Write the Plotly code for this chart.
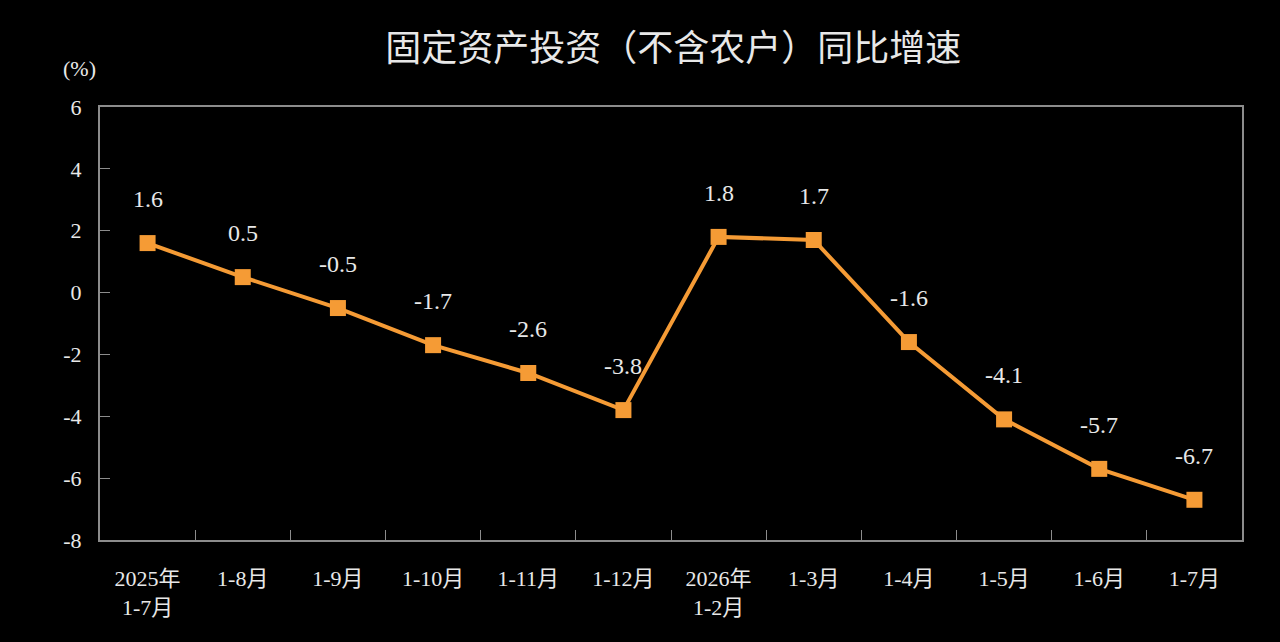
import plotly.graph_objects as go

# categories and values
periods = ['2025年<br>1-7月', '1-8月', '1-9月', '1-10月', '1-11月', '1-12月',
           '2026年<br>1-2月', '1-3月', '1-4月', '1-5月', '1-6月', '1-7月']
growth = [1.6, 0.5, -0.5, -1.7, -2.6, -3.8, 1.8, 1.7, -1.6, -4.1, -5.7, -6.7]
y_ticks = [-8, -6, -4, -2, 0, 2, 4, 6]

orange = '#F59B35'
text_col = '#E8E8E8'
axis_col = '#8C8C8C'
serif = 'Liberation Serif, Noto Sans CJK SC, serif'

fig = go.Figure()
fig.add_trace(go.Scatter(
    x=periods, y=growth, mode='lines+markers',
    line=dict(color=orange, width=4),
    marker=dict(symbol='square', size=16, color=orange),
    hoverinfo='skip',
))

# value labels above each point
for p, v in zip(periods, growth):
    fig.add_annotation(x=p, y=v, text=f'{v:.1f}', showarrow=False,
                       yshift=44, font=dict(family=serif, size=24, color=text_col))

fig.add_annotation(text='(%)', xref='paper', yref='paper', x=-0.002, y=1.09,
                   xanchor='right', yanchor='middle', showarrow=False,
                   font=dict(family=serif, size=22, color=text_col))

fig.update_layout(
    width=1280, height=642,
    paper_bgcolor='black', plot_bgcolor='black',
    margin=dict(l=100, r=38, t=107, b=102),
    showlegend=False,
    title=dict(text='固定资产投资（不含农户）同比增速', x=0.526, xanchor='center',
               y=0.925, yanchor='middle',
               font=dict(family='Noto Sans CJK SC', size=36, color=text_col)),
)

fig.update_xaxes(
    type='category', range=[-0.5, len(periods) - 0.5],
    tickson='boundaries', ticks='inside', ticklen=10,
    tickcolor=axis_col, showline=True, linecolor=axis_col, linewidth=2,
    mirror=True, showgrid=False, ticklabelstandoff=18,
    tickfont=dict(family=serif, size=22, color=text_col),
)
fig.update_yaxes(
    range=[-8, 6], tickvals=y_ticks, ticktext=[str(t) for t in y_ticks],
    ticks='inside', ticklen=10,
    tickcolor=axis_col, showline=True, linecolor=axis_col, linewidth=2,
    mirror=True, showgrid=False, zeroline=False, ticklabelstandoff=12,
    tickfont=dict(family=serif, size=22, color=text_col),
)

fig.write_html('out.html', config={'displayModeBar': False},
               post_script="document.body.style.margin='0';"
                           "document.body.style.background='black';")
